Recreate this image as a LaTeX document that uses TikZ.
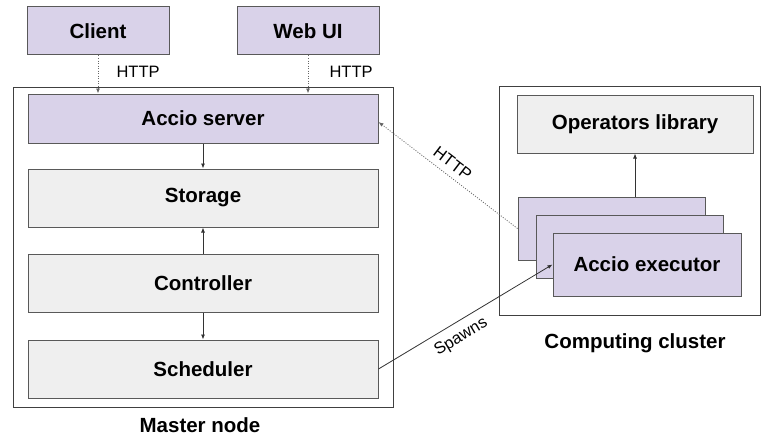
\documentclass[tikz,border=0pt]{standalone}
\usepackage{fontspec}
\setmainfont{Liberation Sans}
\usetikzlibrary{arrows.meta}
\definecolor{lav}{HTML}{D9D2E9}
\definecolor{lgray}{HTML}{EFEFEF}
\definecolor{edge}{HTML}{595959}
\tikzset{
  box/.style={draw=edge, line width=1pt, rectangle, inner sep=0pt, font=\fontsize{20.5}{24}\selectfont\bfseries},
  pbox/.style={box, fill=lav},
  gbox/.style={box, fill=lgray},
  frame/.style={draw=black!75, line width=1pt, rectangle, inner sep=0pt},
  biglabel/.style={font=\fontsize{20.5}{24}\selectfont\bfseries},
  small/.style={font=\fontsize{16.5}{19}\selectfont},
  arr/.style={draw=black!80, line width=0.8pt, -{Latex[length=5pt,width=4pt]}},
  darr/.style={arr, draw=black!60, dash pattern=on 1pt off 1.5pt}
}
\begin{document}
\begin{tikzpicture}[x=1pt,y=-1pt]
\useasboundingbox (0,0) rectangle (762,436);
% master node
\node[frame, minimum width=380pt, minimum height=320pt] (master) at (203,247) {};
\node[biglabel] (masterlbl) at (200,425) {Master node};
% computing cluster
\node[frame, minimum width=261pt, minimum height=229pt] (cluster) at (630,200.5) {};
\node[biglabel] (clusterlbl) at (635,343) {Computing cluster};
% top boxes
\node[pbox, minimum width=142pt, minimum height=48pt] (client) at (98,31) {Client};
\node[pbox, minimum width=142pt, minimum height=48pt] (webui) at (308,31) {Web UI};
% master contents
\node[pbox, minimum width=350pt, minimum height=49pt] (server) at (203,118.5) {Accio server};
\node[gbox, minimum width=350pt, minimum height=58pt] (storage) at (203,198) {Storage};
\node[gbox, minimum width=350pt, minimum height=58pt] (controller) at (203,283) {Controller};
\node[gbox, minimum width=350pt, minimum height=58pt] (scheduler) at (203,369) {Scheduler};
% cluster contents
\node[gbox, minimum width=236pt, minimum height=58pt] (oplib) at (635,124) {Operators library};
\node[pbox, minimum width=187pt, minimum height=63pt] (exec3) at (611.5,228.5) {};
\node[pbox, minimum width=187pt, minimum height=63pt] (exec2) at (629.5,246.5) {};
\node[pbox, minimum width=188pt, minimum height=63pt] (exec1) at (647,264.5) {Accio executor};
% connectors
\draw[darr] (client.south) -- (client.south |- server.north);
\node[small, anchor=west] (http1) at (113,72) {HTTP};
\draw[darr] (webui.south) -- (webui.south |- server.north);
\node[small, anchor=west] (http2) at (326,72) {HTTP};
\draw[arr] (server.south) -- (storage.north);
\draw[arr] (controller.north) -- (storage.south);
\draw[arr] (controller.south) -- (scheduler.north);
\draw[arr] (oplib.south |- exec3.north) -- (oplib.south);
\draw[darr] (exec3.west) -- ([yshift=-3.5pt]server.east)
  node[small, pos=0.52, sloped, above=3pt] (http3) {HTTP};
\draw[arr] (scheduler.east) -- (exec1.west)
  node[small, pos=0.43, sloped, below=4pt] (spawns) {Spawns};
\end{tikzpicture}
\end{document}
